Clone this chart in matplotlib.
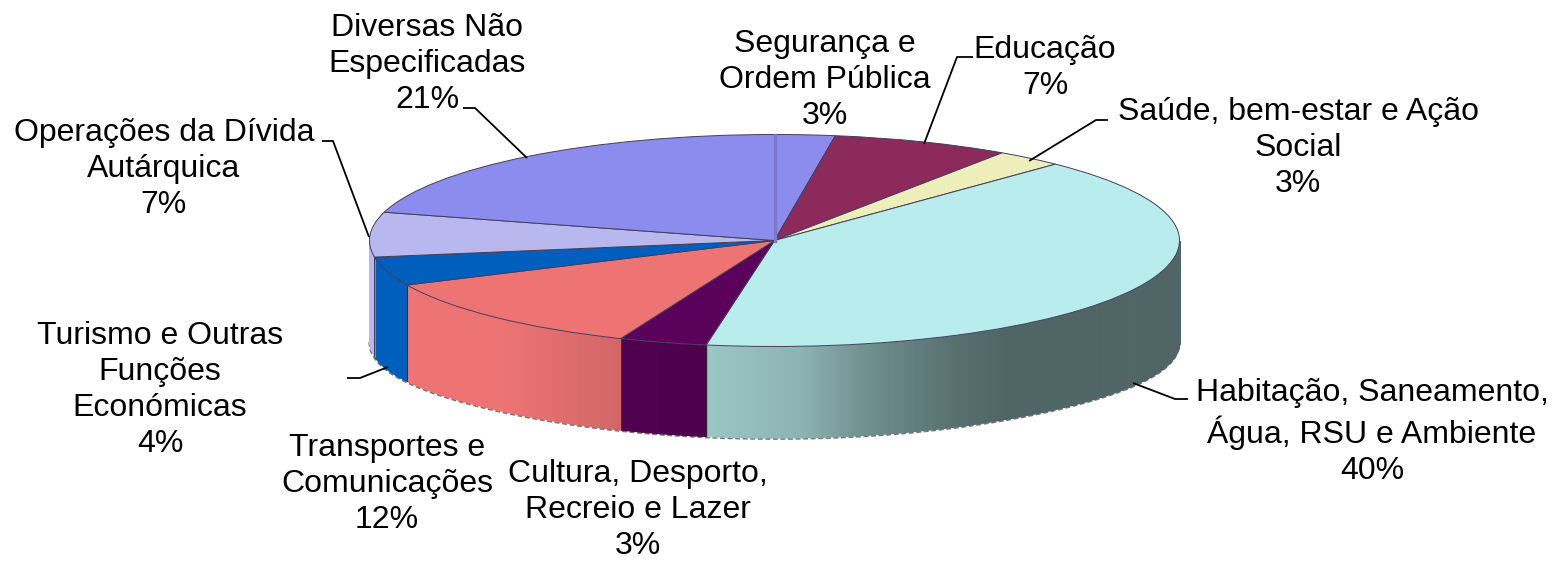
import numpy as np
import matplotlib
matplotlib.use("Agg")
import matplotlib.pyplot as plt
from matplotlib.colors import to_rgb

W, H = 1555, 561
plt.rcParams['font.family'] = ['Liberation Sans', 'DejaVu Sans']

# Data
categories = ["Segurança e\nOrdem Pública\n3%", "Educação\n7%", "Saúde, bem-estar e Ação\nSocial\n3%",
              "Habitação, Saneamento,\nÁgua, RSU e Ambiente\n40%", "Cultura, Desporto,\nRecreio e Lazer\n3%",
              "Transportes e\nComunicações\n12%", "Turismo e Outras\nFunções\nEconómicas\n4%",
              "Operações da Dívida\nAutárquica\n7%", "Diversas Não\nEspecificadas\n21%"]
shares = [2.4, 7.1, 2.7, 40.5, 3.5, 11.9, 4.4, 6.8, 20.7]
colors = ["#8c8cee", "#8b2a5b", "#eeeebb", "#b9ecec", "#5b005b", "#ee7474", "#005ebc", "#b8b8ee", "#8c8cee"]

# Layout (pixels)
cx, cy, rx, ry = 774.5, 240.5, 405.0, 106.0
depth_mid, depth_end = 91.0, 100.0
label_pos = [(825, 80), (1045, 68), (1298, 148), (1372, 432), (638, 510), (387, 484), (160, 390), (164, 169), (427, 64)]
leaders = [[(973, 57), (957, 57), (924, 144)],
           [(1108, 120), (1096, 120), (1029, 161)],
           [(1188, 399), (1175, 399), (1133, 383)],
           [(347, 378), (360, 378), (388, 367)],
           [(322, 141), (333, 141), (369, 237)],
           [(463, 108), (475, 108), (527, 158)]]
shade_x = [370, 500, 622, 708, 800, 870, 960, 1010, 1180]
shade_f = [1.0, 1.0, 0.88, 0.84, 0.76, 0.60, 0.47, 0.43, 0.43]

fig = plt.figure(figsize=(W / 100, H / 100), dpi=100)
ax = fig.add_axes([0, 0, 1, 1])
ax.pie(shares, colors=colors, startangle=90, counterclock=False, radius=1,
       wedgeprops=dict(edgecolor="#40405a", linewidth=0.7))
ax.set_aspect('auto')
ax.set_xlim((0 - cx) / rx, (W - cx) / rx)
ax.set_ylim((cy - H) / ry, cy / ry)


def wall(x):
    return (depth_mid + (depth_end - depth_mid) * x ** 6) / ry


# Ragged lower rim
th = np.radians(np.linspace(180, 360, 500))
ax.plot(np.cos(th), np.sin(th) - wall(np.cos(th)) - 0.012, color="#777777", lw=1.6,
        ls=(0, (2.2, 1.2)), zorder=0)

# Side wall, shaded along x
edges = 90 - np.concatenate([[0], np.cumsum(shares)]) * 3.6 * 100 / sum(shares)
for i, col in enumerate(colors):
    a1, a0 = edges[i], edges[i + 1]
    t = np.linspace(a0, a1, max(2, int((a1 - a0) * 2)))
    for p, q in zip(t[:-1], t[1:]):
        s = np.radians(np.linspace(p, q, 4))
        if np.sin(s).mean() >= 0:
            continue
        xs, ys = np.cos(s), np.sin(s)
        px = cx + rx * xs.mean()
        f = np.interp(px, shade_x, shade_f)
        c = tuple(v * f for v in to_rgb(col))
        ax.fill_between(xs, ys, ys - wall(xs), color=c, linewidth=0.8, antialiased=False, zorder=0.3)
    if np.sin(np.radians(a0)) < 0:
        x0 = np.cos(np.radians(a0))
        y0 = np.sin(np.radians(a0))
        ax.plot([x0, x0], [y0, y0 - wall(x0)], color="#33262e", lw=0.6, zorder=0.5)

# Seam at the top of the pie
ax.plot([0, 0], [0, 1], color="#7a7ac6", lw=2.4, zorder=2)

# Text and leader lines in pixel space
ov = fig.add_axes([0, 0, 1, 1])
ov.set_xlim(0, W)
ov.set_ylim(H, 0)
ov.axis('off')
ov.patch.set_alpha(0)
for txt, (x, y) in zip(categories, label_pos):
    ov.text(x, y, txt, ha='center', va='center', fontsize=23, linespacing=1.27, color='black')
for pts in leaders:
    xs, ys = zip(*pts)
    ov.plot(xs, ys, color='black', lw=1.3, solid_capstyle='butt')

fig.savefig("out.png", dpi=100)
